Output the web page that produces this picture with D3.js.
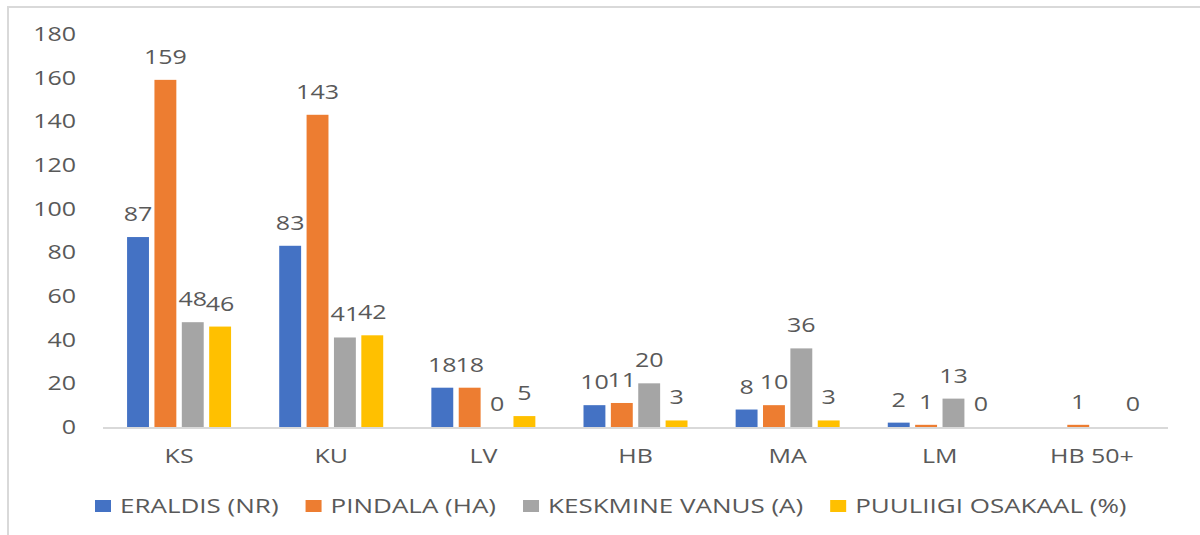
<!DOCTYPE html>
<html>
<head>
  <meta charset="UTF-8">
  <title>Eraldised</title>
  <style>
    body { margin: 0; background: #fff; }
    svg text { font-family: "Open Sans", sans-serif; fill: #595959; }
  </style>
</head>
<body>
  <div id="chart"></div>
  <script src="https://d3js.org/d3.v7.min.js"></script>
  <script>
    // data
    const categories = ["KS", "KU", "LV", "HB", "MA", "LM", "HB 50+"];
    const seriesNames = ["ERALDIS (NR)", "PINDALA (HA)", "KESKMINE VANUS (A)", "PUULIIGI OSAKAAL (%)"];
    const eraldis = [87, 83, 18, 10, 8, 2, null];
    const pindala = [159, 143, 18, 11, 10, 1, 1];
    const vanus = [48, 41, 0, 20, 36, 13, null];
    const osakaal = [46, 42, 5, 3, 3, 0, 0];
    const yTicks = [0, 20, 40, 60, 80, 100, 120, 140, 160, 180];

    const colors = ["#4472C4", "#ED7D31", "#A5A5A5", "#FFC000"];
    const values = [eraldis, pindala, vanus, osakaal];

    const width = 1200, height = 535;
    const sx = 1.25; // text looks horizontally stretched in the original

    const svg = d3.select("#chart").append("svg")
      .attr("width", width)
      .attr("height", height);

    // outer frame (only top and left edges are visible)
    svg.append("rect")
      .attr("x", 8).attr("y", 7)
      .attr("width", 1400).attr("height", 700)
      .attr("fill", "none")
      .attr("stroke", "#D9D9D9")
      .attr("stroke-width", 2);

    const x0 = d3.scaleBand().domain(categories).range([103, 1168]);
    const x1 = d3.scaleBand().domain(d3.range(4)).range([-52, 52]).paddingInner(0.2);
    const y = d3.scaleLinear().domain([0, 180]).range([427, 34]);

    function stretchedText(g, x, yy, txt, anchor, size, k) {
      return g.append("text")
        .attr("transform", `translate(${x},${yy}) scale(${k || sx},1)`)
        .attr("text-anchor", anchor)
        .attr("font-size", size)
        .text(txt);
    }

    // y tick labels
    yTicks.forEach(t => {
      stretchedText(svg, 76, y(t) + 7, t, "end", 20);
    });

    // baseline
    svg.append("line")
      .attr("x1", x0.range()[0]).attr("x2", x0.range()[1])
      .attr("y1", y(0) + 1).attr("y2", y(0) + 1)
      .attr("stroke", "#D9D9D9")
      .attr("stroke-width", 2);

    // bars + labels
    categories.forEach((c, i) => {
      const cx = x0(c) + x0.bandwidth() / 2;
      const g = svg.append("g").attr("transform", `translate(${cx},0)`);
      values.forEach((arr, s) => {
        const v = arr[i];
        if (v === null) return;
        g.append("rect")
          .attr("x", x1(s))
          .attr("y", y(v))
          .attr("width", x1.bandwidth())
          .attr("height", y(0) - y(v))
          .attr("fill", colors[s]);
        stretchedText(g, x1(s) + x1.bandwidth() / 2, y(v) - 16, v, "middle", 20);
      });
      stretchedText(svg, cx, 463, c, "middle", 20);
    });

    // legend
    const legend = svg.append("g");
    const lk = 1.3;
    let lx = 95;
    seriesNames.forEach((name, s) => {
      legend.append("rect")
        .attr("x", lx).attr("y", 500)
        .attr("width", 16).attr("height", 12)
        .attr("fill", colors[s]);
      const t = stretchedText(legend, lx + 25, 513, name, "start", 20, lk);
      const w = t.node().getComputedTextLength() * lk;
      lx += 25 + w + 27;
    });
  </script>
</body>
</html>
